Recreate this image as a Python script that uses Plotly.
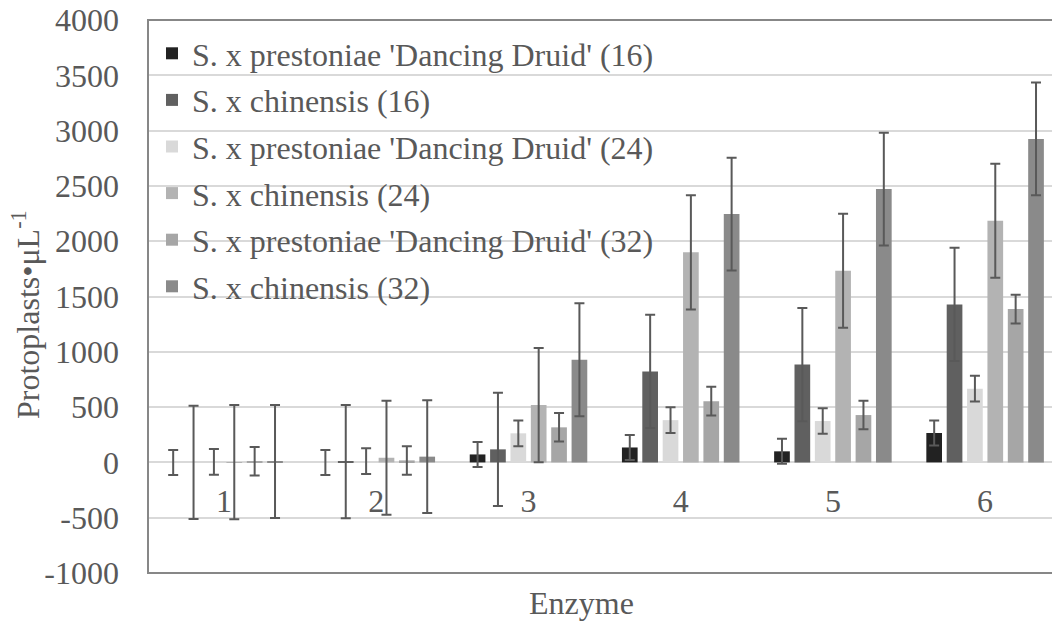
import plotly.graph_objects as go

# Enzyme treatments on the category axis
enzymes = [1, 2, 3, 4, 5, 6]
enzyme_labels = ["1", "2", "3", "4", "5", "6"]

series_names = [
    "S. x prestoniae 'Dancing Druid' (16)",
    "S. x chinensis (16)",
    "S. x prestoniae 'Dancing Druid' (24)",
    "S. x chinensis (24)",
    "S. x prestoniae 'Dancing Druid' (32)",
    "S. x chinensis (32)",
]

# Mean protoplast yield (protoplasts per µL) for each enzyme treatment
prestoniae_16 = [0, 0, 72, 135, 100, 266]
chinensis_16 = [0, 8, 118, 823, 885, 1428]
prestoniae_24 = [5, 12, 263, 382, 374, 667]
chinensis_24 = [3, 42, 518, 1899, 1733, 2185]
prestoniae_32 = [10, 18, 317, 554, 428, 1386]
chinensis_32 = [8, 52, 928, 2245, 2471, 2925]

# Standard error of each series (one value per series)
stderr_values = [113, 512, 116, 516, 129, 510]

y_ticks = [-1000, -500, 0, 500, 1000, 1500, 2000, 2500, 3000, 3500, 4000]

series_values = [prestoniae_16, chinensis_16, prestoniae_24,
                 chinensis_24, prestoniae_32, chinensis_32]
bar_colors = ["#222222", "#606060", "#d9d9d9", "#b3b3b3", "#a6a6a6", "#8a8a8a"]

FONT = "Liberation Serif"
TEXT = "#595959"
SIZE = 32

fig = go.Figure()
for name, vals, err, col in zip(series_names, series_values, stderr_values, bar_colors):
    fig.add_trace(go.Bar(
        name=name,
        x=enzymes,
        y=vals,
        marker=dict(color=col, line=dict(width=0)),
        error_y=dict(type="constant", value=err, color="#595959",
                     thickness=2, width=5),
        legendgroup=name,
    ))

W, H = 1052, 622
ML, MT, MB = 148, 20, 49
group_px = 152.2
plot_w = W - ML
plot_h = H - MT - MB
x_hi = 0.5 + plot_w / group_px

fig.update_layout(
    width=W, height=H,
    margin=dict(l=ML, r=0, t=MT, b=MB, pad=0),
    paper_bgcolor="white", plot_bgcolor="white",
    barmode="group", bargap=0.197, bargroupgap=0.23,
    font=dict(family=FONT, size=SIZE, color=TEXT),
    showlegend=True,
    legend=dict(
        x=(152 - ML) / plot_w, y=1 - (26 - MT) / plot_h,
        xanchor="left", yanchor="top",
        bgcolor="rgba(0,0,0,0)", borderwidth=0,
        font=dict(family=FONT, size=SIZE, color=TEXT),
        tracegroupgap=2,
    ),
    xaxis=dict(
        range=[0.5, x_hi],
        tickmode="array", tickvals=enzymes, ticktext=enzyme_labels,
        anchor="free", position=0.2,
        showgrid=False, zeroline=False, showline=False, ticks="",
        tickfont=dict(family=FONT, size=SIZE, color=TEXT),
        ticklabelstandoff=17,
    ),
    yaxis=dict(
        range=[-1000, 4000],
        tickmode="array", tickvals=y_ticks, ticktext=[str(v) for v in y_ticks],
        showgrid=True, gridcolor="#d9d9d9", gridwidth=1.5,
        zeroline=True, zerolinecolor="#d9d9d9", zerolinewidth=1.5,
        showline=False, ticks="",
        tickfont=dict(family=FONT, size=SIZE, color=TEXT),
        ticklabelstandoff=28,
    ),
    shapes=[dict(
        type="rect", xref="paper", yref="paper",
        x0=0, x1=1.05, y0=0, y1=1,
        line=dict(color="#878787", width=2), fillcolor="rgba(0,0,0,0)",
        layer="above",
    )],
    annotations=[
        dict(text="Enzyme", xref="paper", yref="paper",
             x=(581 - ML) / plot_w, y=-(603 - (H - MB)) / plot_h,
             xanchor="center", yanchor="middle", showarrow=False,
             font=dict(family=FONT, size=SIZE, color=TEXT)),
        dict(text="Protoplasts•μL<sup>-1</sup>", xref="paper", yref="paper",
             x=-(ML - 26) / plot_w, y=1 - (315 - MT) / plot_h,
             xanchor="center", yanchor="middle", textangle=-90, showarrow=False,
             font=dict(family=FONT, size=SIZE, color=TEXT)),
    ],
)

fig.write_html("out.html")
